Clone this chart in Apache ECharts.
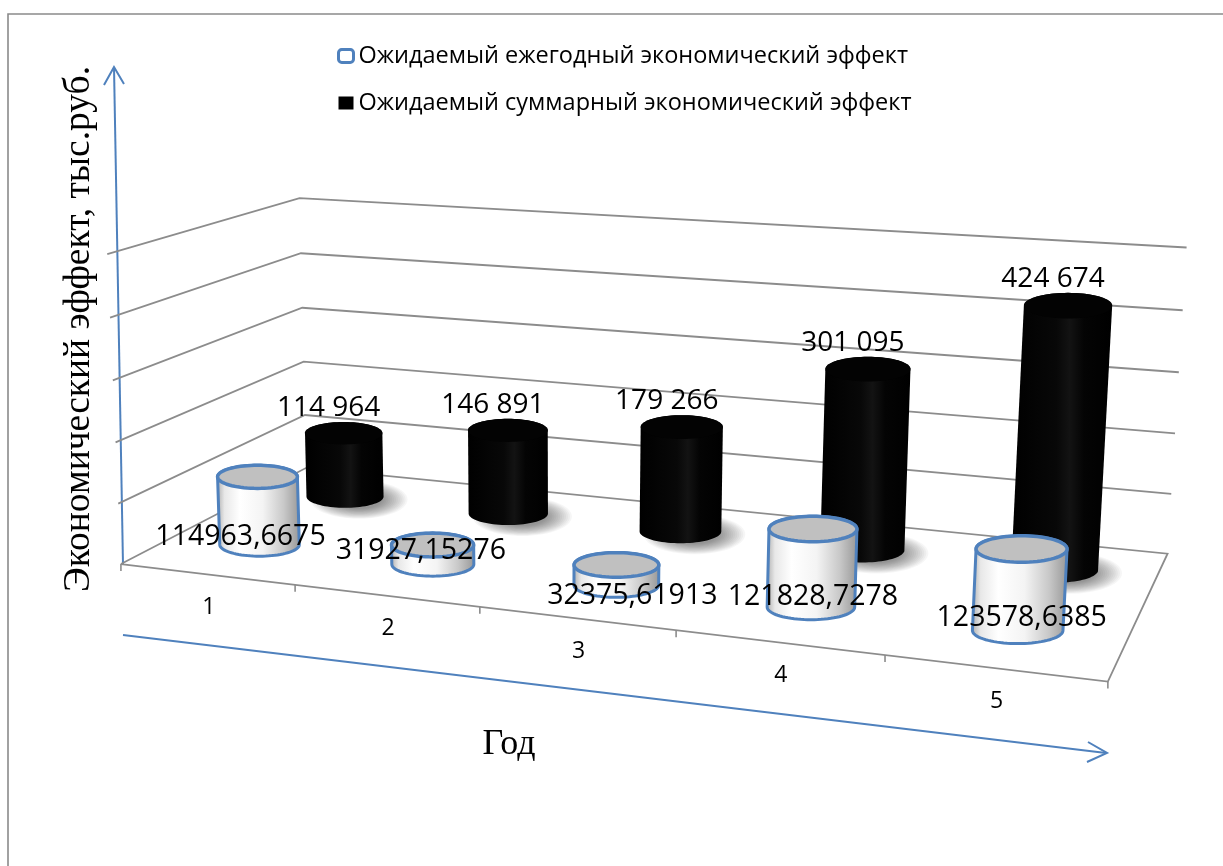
<!DOCTYPE html>
<html>
<head>
<meta charset="utf-8">
<script src="https://cdn.jsdelivr.net/npm/echarts@6/dist/echarts.min.js"></script>
<style>
  html, body { margin: 0; padding: 0; background: #ffffff; }
  #chart { width: 1223px; height: 866px; }
</style>
</head>
<body>
<div id="chart"></div>
<script>
// ---- data ----
const years = ['1', '2', '3', '4', '5'];
const annualEffect = [114963.6675, 31927.15276, 32375.61913, 121828.7278, 123578.6385];
const totalEffect = [114964, 146891, 179266, 301095, 424674];
const valueTicks = [0, 100000, 200000, 300000, 400000, 500000];
const seriesNames = ['Ожидаемый ежегодный экономический эффект', 'Ожидаемый суммарный экономический эффект'];
const yTitle = 'Экономический эффект, тыс.руб.';
const xTitle = 'Год';

// ---- layout / style ----
const SANS = '"Open Sans", "Noto Sans", sans-serif';
const SERIF = '"Liberation Serif", "DejaVu Serif", serif';
const BLUE = '#4F81BD';
const GRID_GRAY = '#8c8c8c';
// where the unit box (X along years, Y up to the axis max, Z into depth) sits on screen
const boxAnchors = [
  [0, 0, 0, 123, 562],
  [1, 0, 0, 1108, 683],
  [0, 0, 1, 304, 470],
  [1, 0, 1, 1168, 552],
  [0, 1, 0, 105, 255],
  [0, 1, 1, 302, 197],
  [1, 1, 1, 1186, 248]
];
const ROW_DEPTH = { annual: 0.27, total: 0.76 };   // depth rows of the two series
const COLUMN_SHARE = 0.47;                         // cylinder diameter / category band
const RADIUS_REF = 40;                             // px; perspective growth of radii is damped around it
const RADIUS_DAMP = 0.55;
const ELLIPSE_RATIO = 0.29;                        // visible flattening of cylinder caps
// small nudges for the annual labels, relative to the cylinder base (px)
const annualLabelShift = [[-19, -8], [-12, -13], [16, 11], [2, -10], [4, -13]];

// ---- perspective camera fitted to the box anchors (DLT) ----
const SU = 600, SV = 430, SS = 600;
function fitCamera(pairs) {
  const rows = [], rhs = [];
  pairs.forEach(([X, Y, Z, sx, sy]) => {
    const u = (sx - SU) / SS, v = (sy - SV) / SS;
    rows.push([X, Y, Z, 1, 0, 0, 0, 0, -u * X, -u * Y, -u * Z]); rhs.push(u);
    rows.push([0, 0, 0, 0, X, Y, Z, 1, -v * X, -v * Y, -v * Z]); rhs.push(v);
  });
  const n = 11;
  const M = [];
  for (let i = 0; i < n; i++) {
    const r = new Array(n + 1).fill(0);
    for (let k = 0; k < rows.length; k++) {
      for (let j = 0; j < n; j++) r[j] += rows[k][i] * rows[k][j];
      r[n] += rows[k][i] * rhs[k];
    }
    M.push(r);
  }
  for (let c = 0; c < n; c++) {
    let piv = c;
    for (let r = c + 1; r < n; r++) if (Math.abs(M[r][c]) > Math.abs(M[piv][c])) piv = r;
    const tmp = M[c]; M[c] = M[piv]; M[piv] = tmp;
    for (let r = 0; r < n; r++) {
      if (r === c) continue;
      const f = M[r][c] / M[c][c];
      for (let k = c; k <= n; k++) M[r][k] -= f * M[c][k];
    }
  }
  return M.map((row, i) => row[n] / row[i]);
}
const cam = fitCamera(boxAnchors);
function P(X, Y, Z) {
  const w = cam[8] * X + cam[9] * Y + cam[10] * Z + 1;
  const u = (cam[0] * X + cam[1] * Y + cam[2] * Z + cam[3]) / w;
  const v = (cam[4] * X + cam[5] * Y + cam[6] * Z + cam[7]) / w;
  return [u * SS + SU, v * SS + SV];
}

// axis pixel -> unit box coordinates
function unitOf(params, api, cat, val) {
  const cs = params.coordSys;
  const p = api.coord([cat, val]);
  return [(p[0] - cs.x) / cs.width, (cs.y + cs.height - p[1]) / cs.height];
}
function bandUnit(params, api) {
  return api.size([1, 0])[0] / params.coordSys.width;
}
function arcPts(cx, cy, a, b, t0, t1, n) {
  const pts = [];
  for (let k = 0; k <= n; k++) {
    const t = t0 + (t1 - t0) * k / n;
    pts.push([cx + a * Math.cos(t), cy + b * Math.sin(t)]);
  }
  return pts;
}
function halfWidth(X, Y, Z, rx) {
  const a = (P(X + rx, Y, Z)[0] - P(X - rx, Y, Z)[0]) / 2;
  return RADIUS_REF * Math.pow(a / RADIUS_REF, RADIUS_DAMP);
}

function fmtAnnual(v) { return String(v).replace('.', ','); }
function fmtTotal(v) { return String(Math.round(v)).replace(/\B(?=(\d{3})+(?!\d))/g, ' '); }

function cylinder(params, api, depth, kind) {
  const idx = api.value(0), val = api.value(1);
  const [X] = unitOf(params, api, idx, 0);
  const [, H] = unitOf(params, api, idx, val);
  const rx = bandUnit(params, api) * COLUMN_SHARE / 2;
  const B = P(X, 0, depth), T = P(X, H, depth);
  const aB = halfWidth(X, 0, depth, rx);
  const aT = halfWidth(X, H, depth, rx);
  const bB = aB * ELLIPSE_RATIO, bT = aT * ELLIPSE_RATIO;

  const body = [[T[0] + aT, T[1]], [B[0] + aB, B[1]]]
    .concat(arcPts(B[0], B[1], aB, bB, 0, Math.PI, 40))
    .concat([[T[0] - aT, T[1]]])
    .concat(arcPts(T[0], T[1], aT, bT, Math.PI, 2 * Math.PI, 40));
  const cap = arcPts(T[0], T[1], aT, bT, 0, 2 * Math.PI, 72);
  const children = [];

  if (kind === 'total') {
    // soft floor shadow, falling to the right of the base
    const layers = 14;
    for (let k = 0; k < layers; k++) {
      const s = 1 - k / layers * 0.55;
      children.push({
        type: 'polygon',
        shape: { points: arcPts(B[0] + 14, B[1] + 3, (aB + 10) * s, (bB + 8) * s, 0, 2 * Math.PI, 60) },
        style: { fill: 'rgba(0,0,0,0.035)' }
      });
    }
    children.push({
      type: 'polygon', shape: { points: body },
      style: {
        fill: {
          type: 'linear', x: 0, y: 0, x2: 1, y2: 0,
          colorStops: [
            { offset: 0, color: '#000000' }, { offset: 0.45, color: '#080808' },
            { offset: 0.58, color: '#131313' }, { offset: 0.72, color: '#040404' },
            { offset: 1, color: '#000000' }
          ]
        }
      }
    });
    children.push({ type: 'polygon', shape: { points: cap }, style: { fill: '#030303' } });
    children.push({
      type: 'text', z2: 50,
      style: {
        text: fmtTotal(val), x: T[0] - 15, y: T[1] - bT - 14,
        font: '28px ' + SANS, fill: '#000',
        align: 'center', verticalAlign: 'middle', textAlign: 'center', textVerticalAlign: 'middle'
      }
    });
  } else {
    children.push({
      type: 'polygon', shape: { points: body },
      style: {
        fill: {
          type: 'linear', x: 0, y: 0, x2: 1, y2: 0,
          colorStops: [
            { offset: 0, color: '#a8a8a8' }, { offset: 0.1, color: '#e8e8e8' },
            { offset: 0.28, color: '#ffffff' }, { offset: 0.55, color: '#f4f4f4' },
            { offset: 0.8, color: '#c8c8c8' }, { offset: 1, color: '#959595' }
          ]
        },
        stroke: BLUE, lineWidth: 3
      }
    });
    children.push({ type: 'polygon', shape: { points: cap }, style: { fill: '#c0c0c0', stroke: BLUE, lineWidth: 3.5 } });
    const sh = annualLabelShift[idx] || [0, -15];
    children.push({
      type: 'text', z2: 50,
      style: {
        text: fmtAnnual(val), x: B[0] + sh[0], y: B[1] + sh[1],
        font: '28.5px ' + SANS, fill: '#000',
        align: 'center', verticalAlign: 'middle', textAlign: 'center', textVerticalAlign: 'middle'
      }
    });
  }
  return { type: 'group', children };
}

const chart = echarts.init(document.getElementById('chart'), null, { renderer: 'canvas' });

const option = {
  animation: false,
  backgroundColor: '#ffffff',
  grid: { left: 0, top: 0, right: 0, bottom: 0 },
  xAxis: { type: 'category', data: years, show: false },
  yAxis: { type: 'value', min: 0, max: 500000, interval: 100000, show: false },
  legend: {
    orient: 'vertical', left: 337, top: 41, itemGap: 17, padding: 0,
    itemWidth: 15, itemHeight: 13, selectedMode: false,
    textStyle: { fontFamily: SANS, fontSize: 23.5, color: '#000', lineHeight: 30 },
    data: [
      { name: seriesNames[0], icon: 'roundRect', itemStyle: { color: '#ffffff', borderColor: BLUE, borderWidth: 3 } },
      { name: seriesNames[1], icon: 'rect', itemStyle: { color: '#000000', borderWidth: 0 } }
    ]
  },
  graphic: [
    // chart area border
    { type: 'polyline', shape: { points: [[8, 866], [8, 14], [1223, 14]] }, style: { stroke: '#8a8a8a', lineWidth: 1.6, fill: null } },
    // hand-drawn axis arrows
    { type: 'polyline', shape: { points: [[123, 565], [114, 67]] }, style: { stroke: BLUE, lineWidth: 2, fill: null } },
    { type: 'polyline', shape: { points: [[104, 85], [114, 67], [124, 84]] }, style: { stroke: BLUE, lineWidth: 2, fill: null } },
    { type: 'polyline', shape: { points: [[123, 635], [1106, 753]] }, style: { stroke: BLUE, lineWidth: 2, fill: null } },
    { type: 'polyline', shape: { points: [[1088, 742], [1107, 753], [1087, 762]] }, style: { stroke: BLUE, lineWidth: 2, fill: null } },
    // axis titles
    {
      type: 'text', x: 79, y: 329, rotation: Math.PI / 2,
      style: { text: yTitle, font: '37.5px ' + SERIF, fill: '#000', align: 'center', verticalAlign: 'middle', textAlign: 'center', textVerticalAlign: 'middle' }
    },
    {
      type: 'text', x: 509, y: 745,
      style: { text: xTitle, font: '36px ' + SERIF, fill: '#000', align: 'center', verticalAlign: 'middle', textAlign: 'center', textVerticalAlign: 'middle' }
    }
  ],
  series: [
    {
      // wall gridlines and floor
      name: 'frame', type: 'custom', silent: true,
      data: valueTicks.map(v => [0, v]),
      renderItem(params, api) {
        const [, h] = unitOf(params, api, 0, api.value(1));
        const fl = P(0, h, 0), bl = P(0, h, 1), br = P(1, h, 1), fr = P(1, h, 0);
        const pts = params.dataIndex === 0 ? [fl, bl, br, fr, fl] : [fl, bl, br];
        return { type: 'polyline', shape: { points: pts }, style: { stroke: GRID_GRAY, lineWidth: 1.8, fill: null } };
      }
    },
    {
      // category ticks and labels along the front edge of the floor
      name: 'years', type: 'custom', silent: true,
      data: years.map((y, i) => [i, 0]),
      renderItem(params, api) {
        const i = api.value(0);
        const [Xc] = unitOf(params, api, i, 0);
        const half = bandUnit(params, api) / 2;
        const children = [];
        const edges = [Xc - half];
        if (i === years.length - 1) edges.push(Xc + half);
        edges.forEach(x => {
          const p = P(x, 0, 0);
          children.push({ type: 'line', shape: { x1: p[0], y1: p[1], x2: p[0], y2: p[1] + 7 }, style: { stroke: GRID_GRAY, lineWidth: 1.6 } });
        });
        const c = P(Xc, 0, 0);
        children.push({
          type: 'text',
          style: { text: years[i], x: c[0] + 2, y: c[1] + 33, font: '23px ' + SANS, fill: '#000', align: 'center', verticalAlign: 'middle', textAlign: 'center', textVerticalAlign: 'middle' }
        });
        return { type: 'group', children };
      }
    },
    {
      name: seriesNames[1], type: 'custom',
      data: totalEffect.map((v, i) => [i, v]),
      renderItem(params, api) { return cylinder(params, api, ROW_DEPTH.total, 'total'); }
    },
    {
      name: seriesNames[0], type: 'custom',
      data: annualEffect.map((v, i) => [i, v]),
      renderItem(params, api) { return cylinder(params, api, ROW_DEPTH.annual, 'annual'); }
    }
  ]
};
chart.setOption(option);
</script>
</body>
</html>
